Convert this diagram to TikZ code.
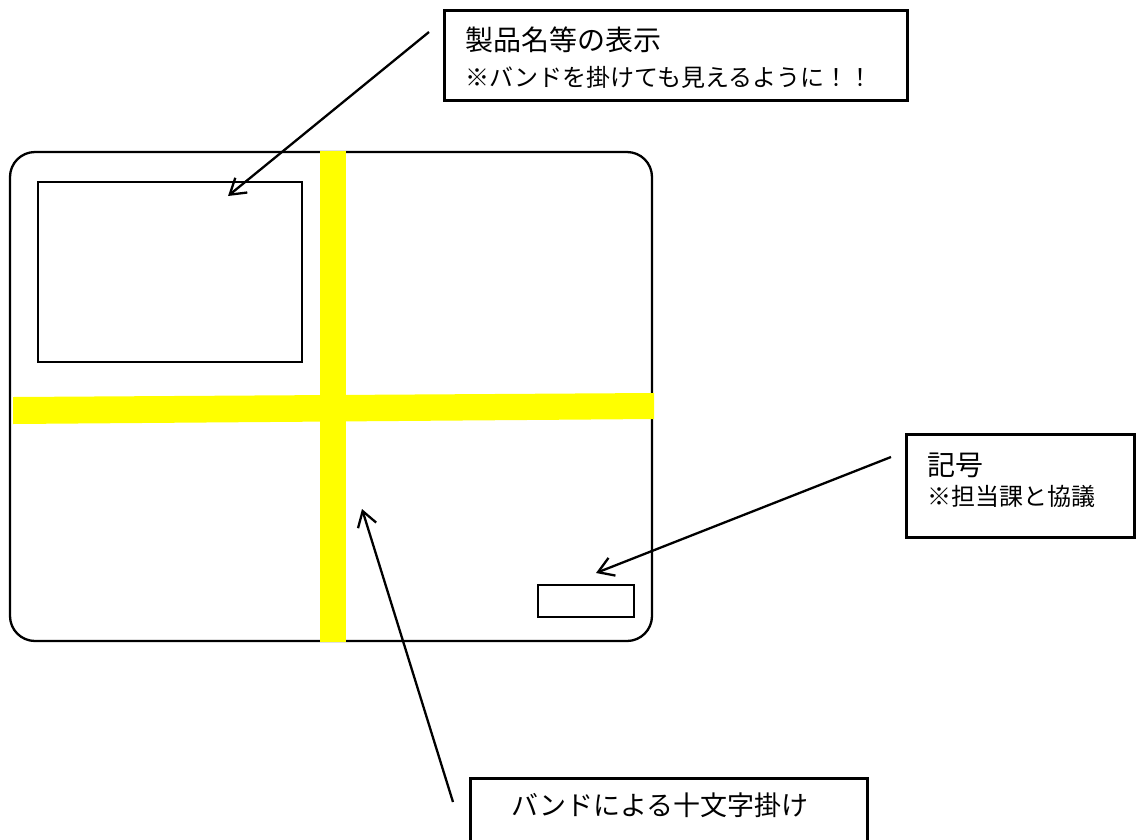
\documentclass[tikz,border=0pt]{standalone}
\usepackage{fontspec}
\setmainfont{Noto Sans CJK JP}
\usetikzlibrary{arrows.meta}
\definecolor{bandyellow}{RGB}{255,255,0}
\begin{document}
\begin{tikzpicture}[x=1pt,y=-1pt,
  outline/.style={draw=black, line width=2.3pt, inner sep=0pt, outer sep=0pt},
  labelbox/.style={draw=black, line width=3pt, fill=white, inner sep=0pt, outer sep=0pt},
  band/.style={fill=bandyellow, draw=none},
  pointer/.style={draw=black, line width=2.3pt, -{Straight Barb[length=15pt,width=19pt,line width=2.3pt]}},
  bigtext/.style={font=\fontsize{28}{33}\selectfont, inner sep=0pt, anchor=west},
  smalltext/.style={font=\fontsize{24}{29}\selectfont, inner sep=0pt, anchor=west}]
\useasboundingbox (0,0) rectangle (1136,839);
\clip (0,0) rectangle (1136,839);
% card
\node[outline, rounded corners=25pt, minimum width=642pt, minimum height=489pt] (card) at (331,396.5) {};
\node[outline, minimum width=264pt, minimum height=180pt] (namearea) at (170,272) {};
\node[outline, minimum width=96pt, minimum height=32pt] (markarea) at (586,601) {};
% bands
\fill[band] (320,151) rectangle (346,642);
\fill[band] (13,397) -- (654,393) -- (654,419) -- (13,424) -- cycle;
% label boxes
\node[labelbox, minimum width=463pt, minimum height=90pt] (topbox) at (675.5,55) {};
\node[bigtext] (t1) at (465,40) {製品名等の表示};
\node[smalltext] (t2) at (465,77) {※バンドを掛けても見えるように！！};
\node[labelbox, minimum width=228pt, minimum height=103pt] (rightbox) at (1020,485.5) {};
\node[bigtext] (r1) at (927,465) {記号};
\node[smalltext] (r2) at (927,496) {※担当課と協議};
\node[labelbox, minimum width=397pt, minimum height=100pt] (bottombox) at (668.5,828) {};
\node[font=\fontsize{27}{32}\selectfont, inner sep=0pt, anchor=center] (b1) at (660,805) {バンドによる十文字掛け};
% arrows
\coordinate (p1) at (429,32); \coordinate (q1) at (228,196);
\coordinate (p2) at (891,457); \coordinate (q2) at (596,573);
\coordinate (p3) at (453,802); \coordinate (q3) at (362,509);
\draw[pointer] (p1) -- (q1);
\draw[pointer] (p2) -- (q2);
\draw[pointer] (p3) -- (q3);
\end{tikzpicture}
\end{document}
